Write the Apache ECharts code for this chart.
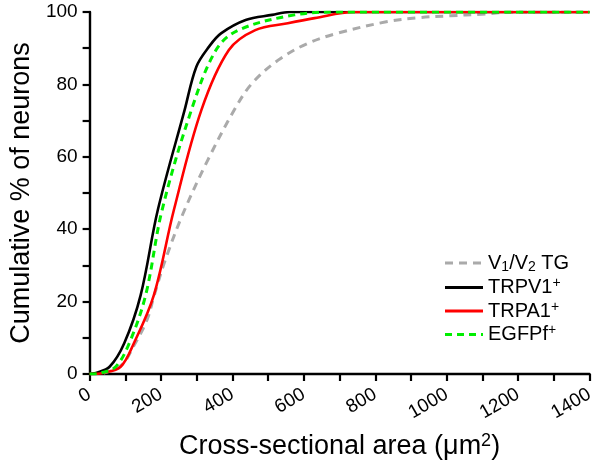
<!DOCTYPE html>
<html><head><meta charset="utf-8">
<script src="https://cdn.jsdelivr.net/npm/echarts@6/dist/echarts.min.js"></script>
<style>html,body{margin:0;padding:0;background:#fff}#c{width:600px;height:472px}</style>
</head><body><div id="c"></div>
<script>
// Cross-sectional area (µm²) and cumulative % per series
const tgX    = [0, 40, 90, 125, 161, 180, 212, 262, 331, 405, 455, 528, 610, 693, 831, 917, 1010, 1098, 1189, 1400];
const tgY    = [0, 0.3, 2.5, 8, 15, 21.4, 31.5, 44.4, 59.1, 72.9, 80.3, 86.7, 91.3, 94.1, 97.3, 98.4, 98.96, 99.4, 100, 100];
const trpv1X = [0, 18, 56, 97, 143, 191, 266, 299, 335, 368, 437, 511, 560, 1400];
const trpv1Y = [0, 0.3, 2, 8.5, 21.8, 45.3, 72.9, 84.9, 90.5, 94.1, 97.8, 99.2, 100, 100];
const trpa1X = [0, 37, 87, 124, 180, 236, 313, 390, 464, 555, 630, 740, 1400];
const trpa1Y = [0, 0.3, 2, 8.5, 21.8, 45.3, 72.9, 89.5, 95, 96.9, 98.3, 100, 100];
const egfpX  = [0, 32, 73, 111, 157, 203, 285, 354, 417, 574, 704, 1400];
const egfpY  = [0, 0.3, 2, 8.5, 21.8, 45.3, 72.9, 89.5, 95, 99.2, 100, 100];
const seriesNames = ['V1/V2 TG', 'TRPV1+', 'TRPA1+', 'EGFPf+'];
const legendRich = {
  'V1/V2 TG': '{b|V}{sub|1}{b|/V}{sub|2}{b| TG}',
  'TRPV1+': '{b|TRPV1}{sup|+}',
  'TRPA1+': '{b|TRPA1}{sup|+}',
  'EGFPf+': '{b|EGFPf}{sup|+}'
};
const xTicks = [0, 200, 400, 600, 800, 1000, 1200, 1400];
const yTicks = [0, 20, 40, 60, 80, 100];

const zip = (a, b) => a.map((v, i) => [v, b[i]]);
const font = 'Liberation Sans, Arial, sans-serif';
const solidIcon = 'path://M0,0h38v3h-38z';
const grayDashIcon = 'path://M0,0h8v3h-8z M14,0h8v3h-8z M28,0h8v3h-8z M38,0h0v3h0z';
const greenDashIcon = 'path://M0,0h7v3h-7z M12,0h7v3h-7z M24,0h7v3h-7z M36,0h2v3h-2z';
const chart = echarts.init(document.getElementById('c'), null, {renderer: 'canvas'});
const axisCommon = {
  axisLine: {show: true, lineStyle: {color: '#000', width: 2.4}},
  axisTick: {show: true, inside: false, length: 7, lineStyle: {color: '#000', width: 2.2}},
  minorTick: {show: true, splitNumber: 2, length: 7, lineStyle: {color: '#000', width: 2.2}},
  splitLine: {show: false}
};
const nameStyle = {
  fontFamily: font, fontSize: 27, color: '#000',
  rich: {
    n: {fontFamily: font, fontSize: 27, color: '#000', lineHeight: 30},
    sup: {fontFamily: font, fontSize: 18, color: '#000', lineHeight: 16, verticalAlign: 'top'}
  }
};
const lineSeries = (name, xs, ys, color, width, dash, z) => ({
  name, type: 'line', smooth: 0.35, symbol: 'none', data: zip(xs, ys),
  lineStyle: {color, width, type: dash || 'solid'}, itemStyle: {color}, z
});
chart.setOption({
  animation: false,
  backgroundColor: '#fff',
  grid: {left: 81.5, right: 10.5, top: 12, bottom: 98, containLabel: false},
  legend: {
    orient: 'vertical', left: 440, top: 248, itemWidth: 38, itemHeight: 3, itemGap: 2.5,
    formatter: n => legendRich[n],
    textStyle: {
      fontFamily: font, fontSize: 20, color: '#000',
      rich: {
        b: {fontFamily: font, fontSize: 20, color: '#000', lineHeight: 22},
        sup: {fontFamily: font, fontSize: 14, color: '#000', lineHeight: 14, verticalAlign: 'top'},
        sub: {fontFamily: font, fontSize: 14, color: '#000', lineHeight: 14, verticalAlign: 'bottom'}
      }
    },
    data: [
      {name: seriesNames[0], icon: grayDashIcon},
      {name: seriesNames[1], icon: solidIcon},
      {name: seriesNames[2], icon: solidIcon},
      {name: seriesNames[3], icon: greenDashIcon}
    ]
  },
  xAxis: Object.assign({}, axisCommon, {
    type: 'value', min: xTicks[0], max: xTicks[xTicks.length - 1], interval: 200,
    name: '{n|Cross-sectional area (\u03BCm}{sup|2}{n|)}', nameLocation: 'middle', nameGap: 58,
    nameTextStyle: nameStyle,
    axisLabel: {fontFamily: font, fontSize: 19, color: '#000', rotate: 30, margin: 19,
                formatter: v => String(v)}
  }),
  yAxis: Object.assign({}, axisCommon, {
    type: 'value', min: yTicks[0], max: yTicks[yTicks.length - 1], interval: 20,
    name: 'Cumulative % of neurons', nameLocation: 'middle', nameGap: 46,
    nameTextStyle: {fontFamily: font, fontSize: 27, color: '#000'},
    axisLabel: {fontFamily: font, fontSize: 19, color: '#000', margin: 12,
                formatter: v => String(v)}
  }),
  series: [
    lineSeries(seriesNames[0], tgX, tgY, '#aaaaaa', 3, [8, 6], 1),
    lineSeries(seriesNames[1], trpv1X, trpv1Y, '#000000', 2.6, null, 2),
    lineSeries(seriesNames[2], trpa1X, trpa1Y, '#ff0000', 2.6, null, 3),
    lineSeries(seriesNames[3], egfpX, egfpY, '#00ee00', 3, [7, 5], 4)
  ]
});
</script></body></html>
